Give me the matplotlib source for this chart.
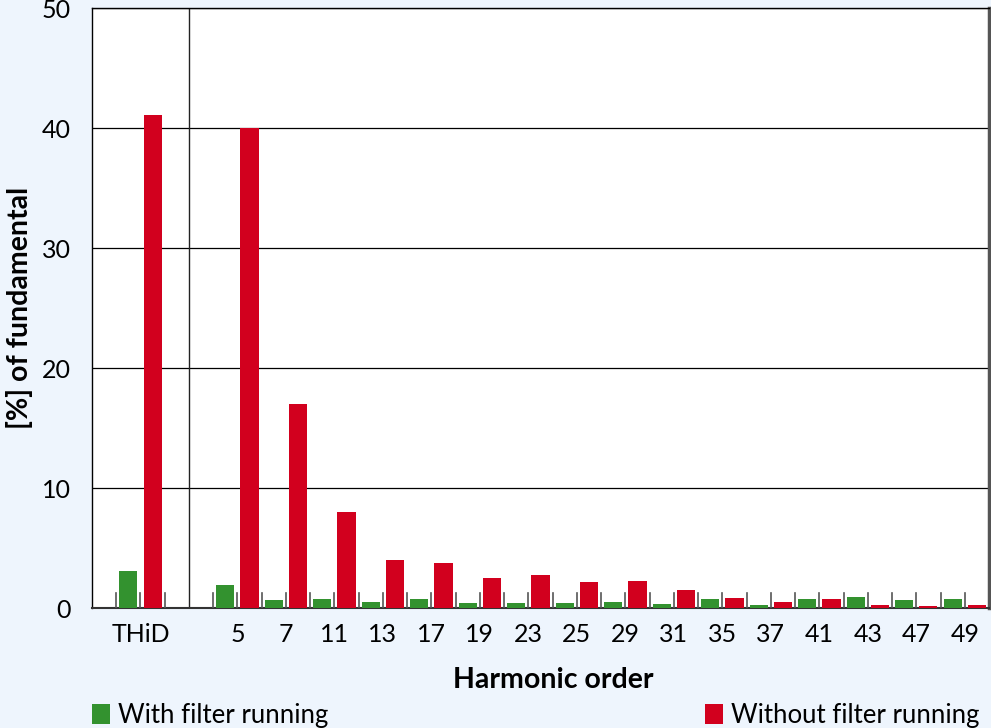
import matplotlib.pyplot as plt
import numpy as np

plt.rcParams['font.family'] = ['Lato', 'DejaVu Sans']

harmonics = ['5', '7', '11', '13', '17', '19', '23', '25', '29', '31', '35', '37', '41', '43', '47', '49']
with_filter = [1.9, 0.67, 0.75, 0.5, 0.75, 0.4, 0.45, 0.45, 0.5, 0.33, 0.75, 0.25, 0.75, 0.92, 0.67, 0.75]
without_filter = [40.0, 17.0, 8.0, 4.0, 3.75, 2.5, 2.75, 2.17, 2.25, 1.5, 0.83, 0.5, 0.75, 0.25, 0.15, 0.25]
thid_with = 3.1
thid_without = 41.1

green = '#33922f'
red = '#d2001e'
bg = '#eef5fd'

fig = plt.figure(figsize=(9.91, 7.28), dpi=100, facecolor=bg)
ax = fig.add_axes([92 / 991, 120 / 728, 897 / 991, 600 / 728])

# slot layout: 4 slots for THiD section, then one empty slot, then 2 slots per harmonic
n_slots = 5 + 2 * len(harmonics)
w = 0.75
k = np.arange(len(harmonics))
gx = 5 + 2 * k + 0.5
rx = 6 + 2 * k + 0.5

ax.bar([1.5], [thid_with], width=w, color=green, zorder=3)
ax.bar([2.5], [thid_without], width=w, color=red, zorder=3)
hg = ax.bar(gx, with_filter, width=w, color=green, zorder=3)
hr = ax.bar(rx, without_filter, width=w, color=red, zorder=3)

ax.set_xlim(0, n_slots)
ax.set_ylim(0, 50)
ax.set_yticks([0, 10, 20, 30, 40, 50])
ax.yaxis.grid(True, color='black', linewidth=0.9, zorder=1)
ax.set_axisbelow(True)
ax.tick_params(axis='y', length=0, pad=15, labelsize=18)

ax.set_xticks([2] + list(6 + 2 * k))
ax.set_xticklabels(['THiD'] + harmonics)
ax.tick_params(axis='x', length=0, pad=11, labelsize=18)

# separator between THiD and harmonics
ax.axvline(4, color='#222222', linewidth=1.0, zorder=2)
# small inner ticks at slot boundaries
for b in range(1, n_slots):
    if b != 4:
        ax.plot([b, b], [0, 1.25], color='#555555', linewidth=1.2, zorder=4)

for s in ['left', 'top']:
    ax.spines[s].set_color('black')
    ax.spines[s].set_linewidth(1.0)
ax.spines['bottom'].set_color('#333333')
ax.spines['bottom'].set_linewidth(1.5)
ax.spines['right'].set_color('#555555')
ax.spines['right'].set_linewidth(2.5)

ax.set_ylabel('[%] of fundamental', fontsize=20.5, fontweight='bold')
ax.yaxis.set_label_coords(-59 / 897, 0.5)
fig.text(553 / 991, 1 - 680 / 728, 'Harmonic order', fontsize=20.5, fontweight='bold',
         ha='center', va='center')

fig.legend(handles=[hg], labels=['With filter running'], loc='lower left',
           bbox_to_anchor=(82 / 991, -10 / 728), frameon=False, fontsize=18.5,
           handlelength=0.7, handleheight=0.85, handletextpad=0.3, borderaxespad=0)
fig.legend(handles=[hr], labels=['Without filter running'], loc='lower left',
           bbox_to_anchor=(695 / 991, -10 / 728), frameon=False, fontsize=18.5,
           handlelength=0.7, handleheight=0.85, handletextpad=0.3, borderaxespad=0)

fig.savefig('out.png', dpi=100, facecolor=bg)
